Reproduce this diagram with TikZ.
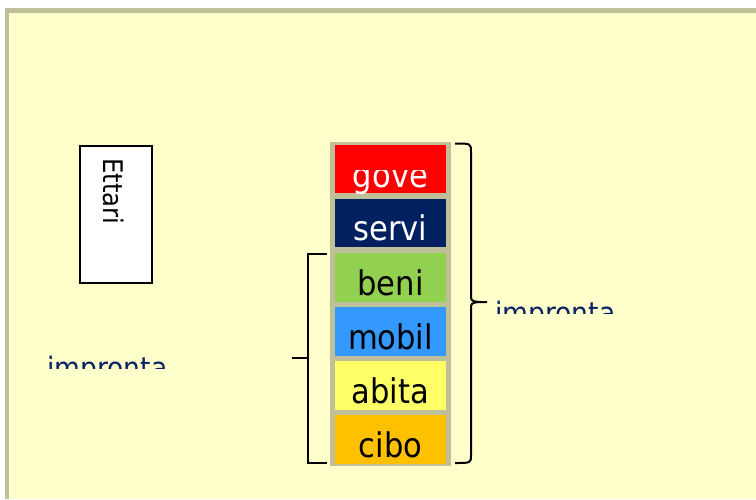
\documentclass[tikz,border=0pt]{standalone}
\usepackage{fontspec}
\setmainfont{DejaVu Sans}[FakeStretch=0.9]
\definecolor{panel}{HTML}{FFFFCC}
\definecolor{frame}{HTML}{BFBF99}
\definecolor{cgove}{HTML}{FF0000}
\definecolor{cservi}{HTML}{002060}
\definecolor{cbeni}{HTML}{92D050}
\definecolor{cmobil}{HTML}{3399FF}
\definecolor{cabita}{HTML}{FFFF66}
\definecolor{ccibo}{HTML}{FFC000}
\definecolor{navytxt}{HTML}{0A2463}
\tikzset{
  cell/.style={fill=#1, draw=none},
  celltxt/.style={anchor=base, inner sep=0pt, font=\fontsize{34}{34}\selectfont},
  imptxt/.style={anchor=base west, inner sep=0pt, text=navytxt, font=\fontsize{29.5}{29.5}\selectfont},
  bracket/.style={draw=black, line width=2pt},
}
\begin{document}
\begin{tikzpicture}[x=1pt,y=-1pt]
\useasboundingbox (0,0) rectangle (756,499);
% panel
\fill[white] (0,0) rectangle (756,499);
\fill[frame] (5,8) rectangle (756,499);
\fill[panel] (9,13) rectangle (756,499);
% Ettari box
\node[draw=black, line width=1.6pt, fill=white, minimum width=72pt, minimum height=137pt, inner sep=0pt] (ett) at (116,214.5) {};
\node[rotate=-90, anchor=base west, inner sep=0pt, font=\fontsize{27}{27}\selectfont] (etttxt) at (103,158) {Ettari};
% column frame
\node[fill=frame, minimum width=121pt, minimum height=324pt, inner sep=0pt] (col) at (390.5,304) {};
% cells
\fill[cgove]  (335,145) rectangle (446,193);
\fill[cservi] (335,199) rectangle (446,247);
\fill[cbeni]  (335,253) rectangle (446,302);
\fill[cmobil] (335,307) rectangle (446,356);
\fill[cabita] (335,361) rectangle (446,410);
\fill[ccibo]  (335,415) rectangle (446,464);
\begin{scope}
\clip (335,170.5) rectangle (446,193);
\node[celltxt, text=white] (gove) at (390.5,187) {gove};
\end{scope}
\node[celltxt, text=white] (servi) at (390.5,240.5) {servi};
\node[celltxt] (beni) at (390.5,295) {beni};
\node[celltxt] (mobil) at (390.5,349.5) {mobil};
\node[celltxt] (abita) at (390.5,403.5) {abita};
\node[celltxt] (cibo) at (390.5,457.5) {cibo};
% impronta labels (clipped)
\begin{scope}
\clip (40,340) rectangle (200,368);
\node[imptxt] (impL) at (47,378) {impronta};
\end{scope}
\begin{scope}
\clip (490,285) rectangle (650,313);
\node[imptxt] (impR) at (495,323) {impronta};
\end{scope}
% left bracket
\coordinate (lt) at (327,254);
\coordinate (lb) at (327,463);
\coordinate (lm) at (292,358);
\draw[bracket] (lt) -- (308,254) -- (308,463) -- (lb);
\draw[bracket] (308,358) -- (lm);
% right brace
\coordinate (rt) at (455,143.5);
\coordinate (rb) at (455,463);
\coordinate (rm) at (487,302);
\draw[bracket, line join=round] (rt) .. controls (471,143.5) .. (471,152) -- (471,294) .. controls (471,301) .. (479,302) -- (rm);
\draw[bracket, line join=round] (rb) .. controls (471,463) .. (471,455) -- (471,310) .. controls (471,303) .. (479,302);
\end{tikzpicture}
\end{document}
